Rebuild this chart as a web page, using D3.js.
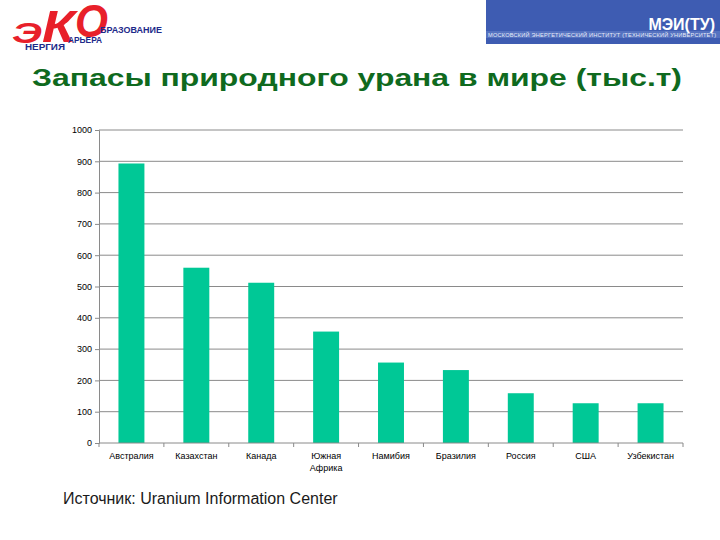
<!DOCTYPE html>
<html>
<head>
<meta charset="utf-8">
<script src="https://cdn.jsdelivr.net/npm/d3@7"></script>
<style>
  body { margin: 0; background: #fff; }
  svg { display: block; font-family: "Liberation Sans", Arial, sans-serif; }
</style>
</head>
<body>
<script>
// data
const countries = ["Австралия", "Казахстан", "Канада", "Южная Африка", "Намибия", "Бразилия", "Россия", "США", "Узбекистан"];
const reserves = [893, 560, 512, 356, 257, 233, 159, 127, 127];
const yTicks = [0, 100, 200, 300, 400, 500, 600, 700, 800, 900, 1000];

const width = 720, height = 540;
const margin = {top: 130, right: 37, bottom: 97, left: 99};

const svg = d3.select("body")
    .append("svg")
    .attr("width", width)
    .attr("height", height);

// left logo (ЭКО), letters grow and climb to the right
const logo = svg.append("g");
[["Э", 12, 43, 29, 30], ["К", 42, 42, 44, 33], ["О", 75, 36.5, 47, 33]].forEach(function(l) {
    logo.append("text")
        .attr("x", l[1]).attr("y", l[2])
        .attr("font-size", l[3]).attr("font-weight", "bold").attr("font-style", "italic")
        .attr("fill", "#e8202a")
        .attr("textLength", l[4]).attr("lengthAdjust", "spacingAndGlyphs")
        .text(l[0]);
});
[["БРАЗОВАНИЕ", 100, 33, 62], ["АРЬЕРА", 68, 43, 34], ["НЕРГИЯ", 25, 50, 40]].forEach(function(t) {
    logo.append("text")
        .attr("x", t[1]).attr("y", t[2])
        .attr("font-size", 8.5).attr("font-weight", "bold")
        .attr("fill", "#1d2a8a")
        .attr("textLength", t[3]).attr("lengthAdjust", "spacingAndGlyphs")
        .text(t[0]);
});

// right logo (МЭИ)
const mei = svg.append("g");
mei.append("rect").attr("x", 486).attr("y", 0).attr("width", 234).attr("height", 44).attr("fill", "#3e5cb2");
mei.append("rect").attr("x", 486).attr("y", 31).attr("width", 234).attr("height", 7).attr("fill", "#5572c0");
mei.append("text")
    .attr("x", 715).attr("y", 30).attr("text-anchor", "end")
    .attr("font-size", 16).attr("font-weight", "bold").attr("fill", "#fff")
    .text("МЭИ(ТУ)");
mei.append("text")
    .attr("x", 488).attr("y", 37)
    .attr("font-size", 5.6).attr("fill", "#e8ecf8")
    .attr("textLength", 228)
    .text("МОСКОВСКИЙ ЭНЕРГЕТИЧЕСКИЙ ИНСТИТУТ (ТЕХНИЧЕСКИЙ УНИВЕРСИТЕТ)");

// title
svg.append("text")
    .attr("x", 32).attr("y", 86)
    .attr("font-size", 24).attr("font-weight", "bold")
    .attr("fill", "#0f6a1e")
    .attr("textLength", 650).attr("lengthAdjust", "spacingAndGlyphs")
    .text("Запасы природного урана в мире (тыс.т)");

const x = d3.scaleBand()
    .domain(countries)
    .range([margin.left, width - margin.right])
    .paddingInner(0.6)
    .paddingOuter(0.3);

const y = d3.scaleLinear()
    .domain([0, 1000])
    .range([height - margin.bottom, margin.top]);

// gridlines
svg.append("g")
    .selectAll("line")
    .data(yTicks.filter(function(d) { return d > 0; }))
    .enter()
    .append("line")
    .attr("x1", margin.left).attr("x2", width - margin.right)
    .attr("y1", function(d) { return y(d); })
    .attr("y2", function(d) { return y(d); })
    .attr("stroke", "#8a8a8a");

// y axis
const yAxis = svg.append("g")
    .attr("transform", "translate(" + margin.left + ",0)")
    .call(d3.axisLeft(y).tickValues(yTicks).tickFormat(d3.format("d")).tickSize(4).tickPadding(3));
yAxis.select(".domain").attr("stroke", "#8a8a8a");
yAxis.selectAll(".tick line").attr("stroke", "#8a8a8a");
yAxis.selectAll("text").attr("font-size", 9).attr("fill", "#000")
    .attr("font-family", "Liberation Sans, Arial, sans-serif");

// bars
svg.append("g")
    .selectAll("rect")
    .data(countries)
    .enter()
    .append("rect")
    .attr("x", function(d) { return x(d); })
    .attr("width", x.bandwidth())
    .attr("y", function(d, i) { return y(reserves[i]); })
    .attr("height", function(d, i) { return y(0) - y(reserves[i]); })
    .attr("fill", "#00c896");

// x axis: ticks at category boundaries
const x0 = y(0);
const band = (width - margin.right - margin.left) / countries.length;
const xg = svg.append("g");
xg.append("line")
    .attr("x1", margin.left).attr("x2", width - margin.right)
    .attr("y1", x0).attr("y2", x0)
    .attr("stroke", "#8a8a8a");
xg.selectAll(".sep")
    .data(d3.range(countries.length + 1))
    .enter()
    .append("line")
    .attr("class", "sep")
    .attr("x1", function(i) { return margin.left + i * band; })
    .attr("x2", function(i) { return margin.left + i * band; })
    .attr("y1", x0).attr("y2", x0 + 4)
    .attr("stroke", "#8a8a8a");

// category labels (wrap two-word names)
xg.selectAll(".lbl")
    .data(countries)
    .enter()
    .append("text")
    .attr("class", "lbl")
    .attr("text-anchor", "middle")
    .attr("font-size", 9)
    .attr("fill", "#000")
    .each(function(d) {
        const t = d3.select(this);
        const cx = x(d) + x.bandwidth() / 2;
        d.split(" ").forEach(function(w, k) {
            t.append("tspan").attr("x", cx).attr("y", x0 + 16 + k * 12).text(w);
        });
    });

// source
svg.append("text")
    .attr("x", 63).attr("y", 504)
    .attr("font-size", 16)
    .attr("fill", "#1a1a1a")
    .text("Источник: Uranium Information Center");
</script>
</body>
</html>
